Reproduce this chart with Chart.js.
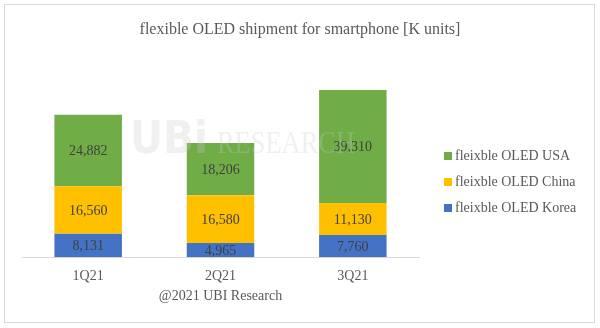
<!DOCTYPE html>
<html lang="en">
<head>
<meta charset="UTF-8">
<title>flexible OLED shipment</title>
<script src="https://cdn.jsdelivr.net/npm/chart.js"></script>
<style>
  html, body { margin: 0; padding: 0; background: #fff; }
  #wrap { width: 600px; height: 328px; }
</style>
</head>
<body>
<div id="wrap"><canvas id="chart" width="600" height="328"></canvas></div>
<script>
const quarters = ['1Q21', '2Q21', '3Q21'];
const koreaUnits = [8131, 4965, 7760];
const chinaUnits = [16560, 16580, 11130];
const usaUnits = [24882, 18206, 39310];

const SERIF = '"Liberation Serif", "Times New Roman", serif';
const TEXT = '#595959';

// frame, title, watermark, footer and legend around the plot
const decor = {
  id: 'decor',
  beforeDraw(chart) {
    const ctx = chart.ctx;
    ctx.save();
    ctx.fillStyle = '#fff';
    ctx.fillRect(0, 0, chart.width, chart.height);
    ctx.strokeStyle = '#d9d9d9';
    ctx.lineWidth = 1;
    ctx.strokeRect(4.5, 4.5, 590, 318);
    ctx.fillStyle = TEXT;
    ctx.font = '16px ' + SERIF;
    ctx.textAlign = 'center';
    ctx.textBaseline = 'middle';
    ctx.fillText('flexible OLED shipment for smartphone [K units]', 300, 30);
    ctx.restore();
  },
  afterDatasetsDraw(chart) {
    const ctx = chart.ctx;
    ctx.save();
    // stacked values inside each segment
    ctx.font = '14px ' + SERIF;
    ctx.fillStyle = '#404040';
    ctx.textAlign = 'center';
    ctx.textBaseline = 'middle';
    chart.data.datasets.forEach((ds, i) => {
      chart.getDatasetMeta(i).data.forEach((bar, j) => {
        ctx.fillText(ds.data[j].toLocaleString('en-US'), bar.x, (bar.y + bar.base) / 2 + 1);
      });
    });
    // faint logo text
    ctx.fillStyle = 'rgba(200,200,200,0.28)';
    ctx.textBaseline = 'alphabetic';
    ctx.textAlign = 'left';
    ctx.font = 'bold 44px "DejaVu Sans", sans-serif';
    ctx.fillText('UBi', 130, 153, 78);
    ctx.font = '32px ' + SERIF;
    ctx.fillText('RESEARCH', 217, 153, 138);
    ctx.restore();
  },
  afterDraw(chart) {
    const ctx = chart.ctx;
    const area = chart.chartArea;
    ctx.save();
    ctx.fillStyle = TEXT;
    ctx.font = '14px ' + SERIF;
    ctx.textAlign = 'center';
    ctx.textBaseline = 'middle';
    ctx.fillText('@2021 UBI Research', (area.left + area.right) / 2, 296);
    // legend, top entry is the top of the stack
    ctx.textAlign = 'left';
    const items = chart.data.datasets.slice().reverse();
    items.forEach((ds, k) => {
      const y = 156 + k * 26;
      ctx.fillStyle = ds.backgroundColor;
      ctx.fillRect(444, y - 4, 8, 8);
      ctx.fillStyle = TEXT;
      ctx.fillText(ds.label, 455, y);
    });
    ctx.restore();
  }
};

new Chart(document.getElementById('chart'), {
  type: 'bar',
  data: {
    labels: quarters,
    datasets: [
      { label: 'fleixble OLED Korea', data: koreaUnits, backgroundColor: '#4472C4' },
      { label: 'fleixble OLED China', data: chinaUnits, backgroundColor: '#FFC000' },
      { label: 'fleixble OLED USA', data: usaUnits, backgroundColor: '#70AD47' }
    ]
  },
  options: {
    responsive: false,
    animation: false,
    events: [],
    layout: { padding: { top: 56, left: 22, right: 181, bottom: 32 } },
    datasets: { bar: { categoryPercentage: 1, barPercentage: 0.51 } },
    scales: {
      x: {
        stacked: true,
        grid: { display: false, drawTicks: false },
        border: { color: '#d9d9d9' },
        ticks: { color: TEXT, font: { family: SERIF, size: 14 }, padding: 11 }
      },
      y: {
        stacked: true,
        display: false,
        min: 0,
        max: 70000
      }
    },
    plugins: {
      legend: { display: false },
      title: { display: false },
      tooltip: { enabled: false }
    }
  },
  plugins: [decor]
});
</script>
</body>
</html>
